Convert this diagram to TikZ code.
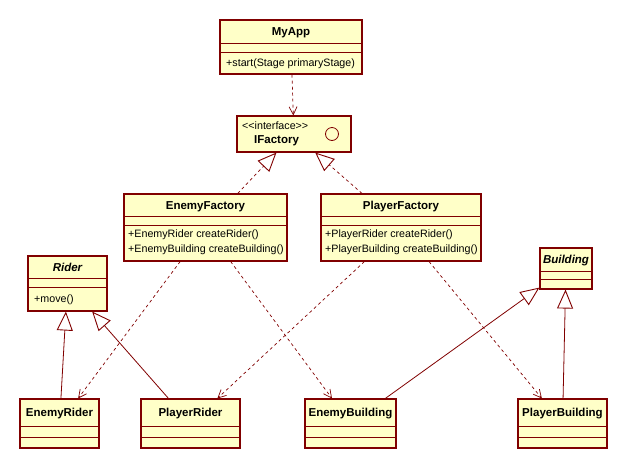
\documentclass[tikz,border=0pt]{standalone}
\usepackage{fontspec}
\setmainfont{Liberation Sans}
\usepackage{tikz}
\usetikzlibrary{arrows.meta}
\definecolor{umlred}{RGB}{128,0,0}
\definecolor{umlfill}{RGB}{255,255,200}

\tikzset{
    umlbox/.style={draw=umlred, fill=umlfill, line width=1.1pt, inner sep=0pt},
    umltitle/.style={font=\fontsize{11.5}{14}\selectfont\bfseries, inner sep=0pt, text height=8.3pt, text depth=0pt},
    umlops/.style={align=left, anchor=north west, inner sep=0pt},
    dep/.style={draw=umlred, line width=0.7pt, dash pattern=on 3pt off 3pt, -{Straight Barb[length=8pt, width=8pt, line width=0.7pt]}},
    real/.style={draw=umlred, line width=0.7pt, dash pattern=on 3pt off 3pt, -{Triangle[open, length=19pt, width=16pt, line width=0.9pt]}},
    gen/.style={draw=umlred, line width=0.8pt, -{Triangle[open, length=19pt, width=16pt, line width=0.9pt]}},
}

% name, left, top, right, bottom, line 1, line 2, title
\newcommand{\umlclass}[8]{%
    \node[umlbox, minimum width={(#4-#2)*1pt}, minimum height={(#5-#3)*1pt}] (#1) at ({(#2+#4)/2},{(#3+#5)/2}) {};
    \draw[umlred, line width=1pt] (#2,#6) -- (#4,#6) (#2,#7) -- (#4,#7);
    \node[umltitle] (#1-title) at ({(#2+#4)/2},{(#3+#6)/2}) {#8};
}

\begin{document}
\begin{tikzpicture}[x=1pt, y=-1pt, font=\fontsize{10.7}{15}\selectfont]
        \useasboundingbox (0,0) rectangle (625,456);
        \umlclass{myapp}{220}{20}{362}{74}{43}{52}{MyApp}
        \node[umlops] (myapp-ops) at (226,59) {+start(Stage primaryStage)};

        \node[umlbox, minimum width=114pt, minimum height=36pt] (ifactory) at (294,134) {};
        \node[umlops, font=\fontsize{10.7}{12}\selectfont] (ifactory-st) at (242,122) {<\kern0pt<interface>\kern0pt>};
        \node[umlops, font=\fontsize{11.5}{14}\selectfont\bfseries] (ifactory-title) at (254,135) {IFactory};
        \draw[umlred, line width=0.8pt] (332,134) circle (6.5);

        \umlclass{efactory}{124}{194}{287}{261}{216}{225}{EnemyFactory}
        \node[umlops] (efactory-ops) at (128,230) {+EnemyRider createRider()\\+EnemyBuilding createBuilding()};
        \umlclass{pfactory}{321}{194}{481}{261}{216}{225}{PlayerFactory}
        \node[umlops] (pfactory-ops) at (325,230) {+PlayerRider createRider()\\+PlayerBuilding createBuilding()};

        \umlclass{rider}{28}{256}{107}{311}{278}{287}{\itshape Rider}
        \node[umlops] (rider-ops) at (34,295) {+move()};
        \umlclass{building}{540}{248}{592}{289}{271}{279}{\itshape Building}

        \umlclass{erider}{20}{399}{99}{448}{426}{437}{EnemyRider}
        \umlclass{prider}{141}{399}{240}{448}{426}{437}{PlayerRider}
        \umlclass{ebuilding}{305}{399}{396}{448}{426}{437}{EnemyBuilding}
        \umlclass{pbuilding}{518}{399}{607}{448}{426}{437}{PlayerBuilding}

        \draw[dep] (myapp) -- (ifactory);
        \draw[real] (efactory) -- (ifactory);
        \draw[real] (pfactory) -- (ifactory);
        \draw[dep] (efactory) -- (erider);
        \draw[dep] (efactory) -- (ebuilding);
        \draw[dep] (pfactory) -- (prider);
        \draw[dep] (pfactory) -- (pbuilding);
        \draw[gen] (erider) -- (rider);
        \draw[gen] (prider) -- (rider);
        \draw[gen] (ebuilding) -- (building);
        \draw[gen] (pbuilding) -- (building);
\end{tikzpicture}
\end{document}
